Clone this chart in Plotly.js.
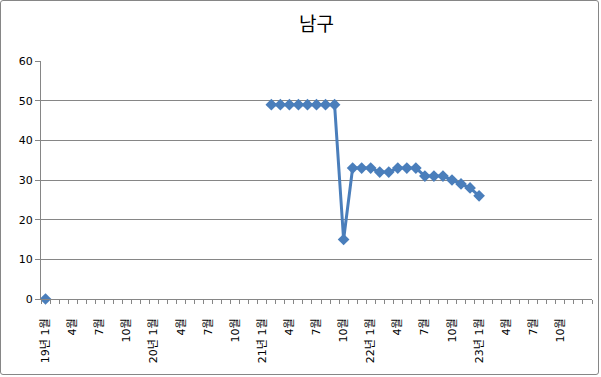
<!DOCTYPE html>
<html>
<head>
<meta charset="utf-8">
<script src="https://cdn.plot.ly/plotly-3.0.1.min.js"></script>
<style>
  html, body { margin: 0; padding: 0; background: #fff; }
  #wrap { position: relative; width: 601px; height: 377px; }
  #chart { width: 601px; height: 377px; }
  #frame { position: absolute; left: 0; top: 0; width: 597px; height: 373px;
           border: 1px solid #868686; border-radius: 3px; pointer-events: none; }
</style>
</head>
<body>
<div id="wrap"><div id="chart"></div><div id="frame"></div></div>
<script>
// Categories: monthly from 19년 1월 to 24년 1월 (61 slots)
const years = ['19', '20', '21', '22', '23', '24'];
const categories = [];
years.forEach(function (y) {
  for (let m = 1; m <= 12; m++) categories.push(y + '년 ' + m + '월');
});
categories.length = 61;

// Values (null = no data)
const values = [
  0, null, null, null, null, null, null, null, null, null, null, null,
  null, null, null, null, null, null, null, null, null, null, null, null,
  null, 49, 49, 49, 49, 49, 49, 49, 49, 15, 33, 33,
  33, 32, 32, 33, 33, 33, 31, 31, 31, 30, 29, 28,
  26, null, null, null, null, null, null, null, null, null, null, null,
  null
];

// Tick labels every 3 months (up to 23년 10월)
const tickIdx = [];
const tickText = [];
for (let i = 0; i <= 57; i += 3) {
  tickIdx.push(i);
  const c = categories[i];
  tickText.push(c.endsWith(' 1월') ? c : c.split(' ')[1]);
}

const xIdx = categories.map(function (_, i) { return i; });

const trace = {
  x: xIdx,
  y: values,
  type: 'scatter',
  mode: 'lines+markers',
  connectgaps: false,
  cliponaxis: false,
  line: { color: '#4A7EBB', width: 3 },
  marker: { symbol: 'diamond', size: 9, color: '#4A7EBB' },
  hoverinfo: 'skip'
};

const layout = {
  width: 601,
  height: 377,
  margin: { l: 41, r: 9, t: 61, b: 78 },
  paper_bgcolor: '#ffffff',
  plot_bgcolor: '#ffffff',
  showlegend: false,
  font: { family: '"DejaVu Sans", "Noto Sans CJK KR", sans-serif', color: '#000' },
  title: {
    text: '남구',
    font: { family: '"Noto Sans CJK KR", sans-serif', size: 19, color: '#000' },
    x: 0.5, xanchor: 'center', xref: 'paper',
    y: 0.935, yanchor: 'middle'
  },
  xaxis: {
    type: 'linear',
    range: [-0.5, 60.5],
    tickmode: 'array',
    tickvals: tickIdx,
    ticktext: tickText,
    tickangle: -90,
    ticks: '',
    ticklabelstandoff: 14,
    tickfont: { family: '"DejaVu Sans", "Noto Sans CJK KR", sans-serif', size: 11, color: '#000' },
    showgrid: false,
    zeroline: false,
    showline: true,
    linecolor: '#868686',
    linewidth: 1,
    minor: {
      tickmode: 'linear',
      tick0: -0.5,
      dtick: 1,
      ticks: 'outside',
      ticklen: 4,
      tickcolor: '#868686',
      tickwidth: 1,
      showgrid: false
    },
    fixedrange: true
  },
  yaxis: {
    range: [0, 60],
    dtick: 10,
    tick0: 0,
    ticks: 'outside',
    ticklen: 5,
    tickcolor: '#868686',
    tickfont: { family: '"DejaVu Sans", sans-serif', size: 11, color: '#000' },
    showgrid: true,
    gridcolor: '#868686',
    gridwidth: 1,
    zeroline: false,
    showline: true,
    linecolor: '#868686',
    linewidth: 1,
    fixedrange: true
  }
};

Plotly.newPlot('chart', [trace], layout, { displayModeBar: false, staticPlot: true });
</script>
</body>
</html>
